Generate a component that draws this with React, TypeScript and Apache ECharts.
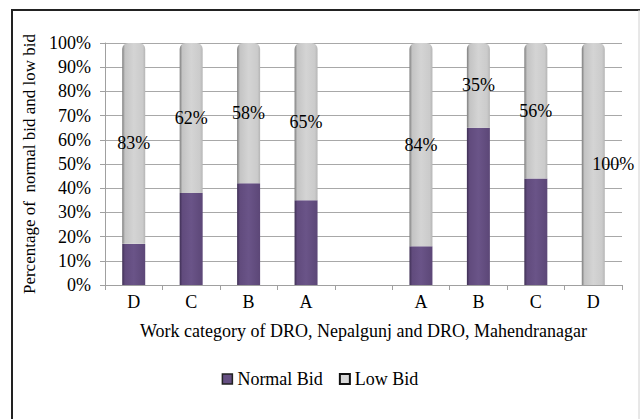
import React, { useEffect, useRef } from "react";
import * as echarts from "echarts";

const categories = ["D", "C", "B", "A", "", "A", "B", "C", "D"];
const normalBid = [17, 38, 42, 35, null, 16, 65, 44, 0];
const lowBid = [83, 62, 58, 65, null, 84, 35, 56, 100];
const yTicks = [0, 10, 20, 30, 40, 50, 60, 70, 80, 90, 100];

const FONT = "'Liberation Serif', 'DejaVu Serif', 'Times New Roman', serif";

export default function App() {
  const ref = useRef<HTMLDivElement>(null);
  useEffect(() => {
    if (!ref.current) return;
    const chart = echarts.init(ref.current, null, { renderer: "svg" });
    const grayGrad = new echarts.graphic.LinearGradient(0, 0, 1, 0, [
      { offset: 0, color: "#7d7d7d" },
      { offset: 0.12, color: "#c4c4c4" },
      { offset: 0.5, color: "#d4d4d4" },
      { offset: 0.88, color: "#cbcbcb" },
      { offset: 1, color: "#b5b5b5" },
    ]);
    const purpleGrad = new echarts.graphic.LinearGradient(0, 0, 1, 0, [
      { offset: 0, color: "#3e2f54" },
      { offset: 0.12, color: "#614b7d" },
      { offset: 0.5, color: "#6a5488" },
      { offset: 1, color: "#5c4777" },
    ]);
    chart.setOption({
      animation: false,
      textStyle: { fontFamily: FONT },
      graphic: [
        { type: "line", shape: { x1: 12, y1: 10, x2: 640, y2: 10 }, style: { stroke: "#222", lineWidth: 2 } },
        { type: "line", shape: { x1: 12, y1: 9, x2: 12, y2: 419 }, style: { stroke: "#222", lineWidth: 2 } },
        { type: "line", shape: { x1: 639, y1: 10, x2: 639, y2: 419 }, style: { stroke: "#d0d0d0", lineWidth: 1 } },
      ],
      grid: { left: 105, right: 18, top: 43, bottom: 134 },
      legend: {
        top: 365,
        left: "center",
        icon: "rect",
        itemWidth: 10,
        itemHeight: 10,
        itemGap: 16,
        textStyle: { fontFamily: FONT, fontSize: 18, color: "#000" },
        data: [
          { name: "Normal Bid", itemStyle: { color: "#654f82", borderColor: "#222", borderWidth: 1.5 } },
          { name: "Low Bid", itemStyle: { color: "#d8d8d8", borderColor: "#111", borderWidth: 2 } },
        ],
      },
      xAxis: {
        type: "category",
        data: categories,
        name: "Work category of DRO, Nepalgunj and DRO, Mahendranagar",
        nameLocation: "middle",
        nameGap: 37,
        nameTextStyle: { fontFamily: FONT, fontSize: 18, color: "#000" },
        axisLine: { lineStyle: { color: "#a0a0a0" } },
        axisTick: { show: true, alignWithLabel: false, length: 5, lineStyle: { color: "#a0a0a0" } },
        axisLabel: { fontFamily: FONT, fontSize: 18, color: "#000", margin: 8, interval: 0 },
      },
      yAxis: {
        type: "value",
        min: 0,
        max: 100,
        interval: 10,
        name: "Percentage of  normal bid and low bid",
        nameLocation: "middle",
        nameGap: 63,
        nameTextStyle: { fontFamily: FONT, fontSize: 17, color: "#000" },
        axisLine: { show: true, lineStyle: { color: "#a0a0a0" } },
        axisTick: { show: true, length: 5, lineStyle: { color: "#a0a0a0" } },
        axisLabel: {
          fontFamily: FONT,
          fontSize: 18,
          color: "#000",
          margin: 14,
          formatter: (v: number) => (yTicks.includes(v) ? v + "%" : ""),
        },
        splitLine: { lineStyle: { color: "#a8a8a8" } },
      },
      series: [
        {
          name: "Normal Bid",
          type: "bar",
          stack: "s",
          barWidth: 23,
          data: normalBid,
          itemStyle: { color: purpleGrad },
        },
        {
          name: "Low Bid",
          type: "bar",
          stack: "s",
          barWidth: 23,
          data: lowBid.map((v, i) =>
            i === lowBid.length - 1
              ? { value: v, label: { offset: [20, 0] } }
              : v
          ),
          itemStyle: { color: grayGrad, borderRadius: [6, 6, 0, 0] },
          label: {
            show: true,
            position: "inside",
            formatter: (p: any) => (p.value == null ? "" : p.value + "%"),
            fontFamily: FONT,
            fontSize: 18,
            color: "#000",
          },
        },
      ],
    });
    return () => chart.dispose();
  }, []);
  return (
    <div
      ref={ref}
      style={{ position: "fixed", left: 0, top: 0, width: 640, height: 419, background: "#fff" }}
    />
  );
}
